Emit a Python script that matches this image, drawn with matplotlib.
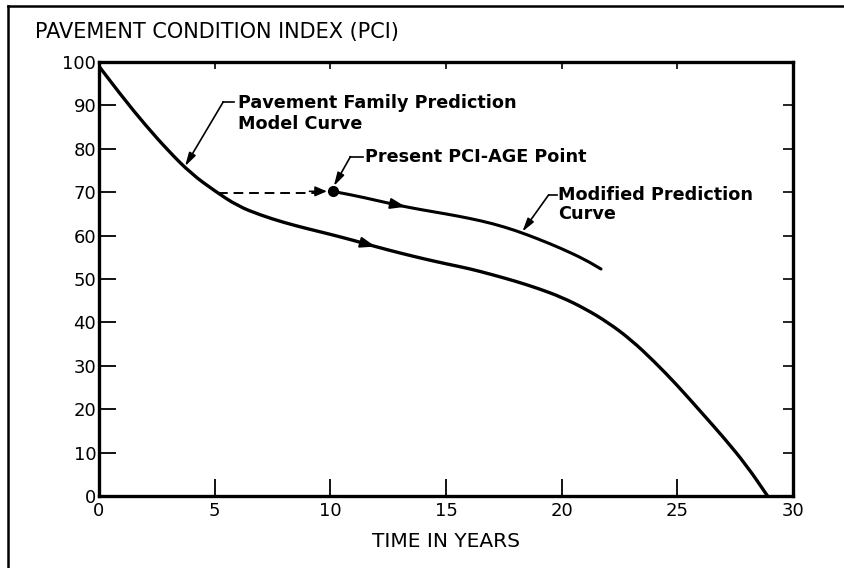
import numpy as np
import matplotlib.pyplot as plt
from matplotlib.lines import Line2D
from matplotlib.path import Path
from matplotlib.patches import PathPatch

# === Data ===
main_x = [0, 1, 2, 3, 4, 5, 6, 7, 8, 9, 10, 11, 12, 13, 14, 15, 16, 17, 18, 19,
          20, 21, 22, 23, 24, 25, 26, 27, 28, 28.9]
main_y = [99, 92, 85.5, 79.5, 74.2, 70.3, 66.8, 64.7, 63, 61.6, 60.3, 58.9, 57.4, 56.0,
          54.7, 53.5, 52.4, 51.0, 49.5, 47.8, 45.8, 43.2, 40.0, 36.0, 31.0, 25.5,
          19.5, 13.5, 7.0, 0]
mod_x = [10.1, 11, 12, 13, 14, 15, 16, 17, 18, 19, 20, 21, 21.7]
mod_y = [70.2, 69.3, 68.1, 66.9, 65.9, 65.0, 64.0, 62.8, 61.2, 59.2, 57.0, 54.5, 52.3]
present_age, present_pci = 10.1, 70.2
dash_start = 5.15

x_ticks = [0, 5, 10, 15, 20, 25, 30]
y_ticks = [0, 10, 20, 30, 40, 50, 60, 70, 80, 90, 100]

title = "PAVEMENT CONDITION INDEX (PCI)"
xlabel = "TIME IN YEARS"
lbl_family = "Pavement Family Prediction\nModel Curve"
lbl_present = "Present PCI-AGE Point"
lbl_modified = "Modified Prediction\nCurve"

# === Figure ===
fig = plt.figure(figsize=(8.44, 5.68), dpi=100)
ax = fig.add_axes([99 / 844, 1 - 496 / 568, 694 / 844, 434 / 568])

# outer frame (top and left visible in reference)
fig.add_artist(Line2D([8 / 844, 1], [1 - 6 / 568, 1 - 6 / 568], color='k', lw=1.8))
fig.add_artist(Line2D([8 / 844, 8 / 844], [0, 1 - 6 / 568], color='k', lw=1.8))


def smooth_curve(xs, ys, lw):
    # quadratic bezier through midpoints, read points act as control points
    pts = list(zip(xs, ys))
    verts = [pts[0]]
    codes = [Path.MOVETO]
    for i in range(1, len(pts) - 1):
        mid = ((pts[i][0] + pts[i + 1][0]) / 2, (pts[i][1] + pts[i + 1][1]) / 2)
        verts += [pts[i], mid]
        codes += [Path.CURVE3, Path.CURVE3]
    verts.append(pts[-1])
    codes.append(Path.LINETO)
    ax.add_patch(PathPatch(Path(verts, codes), fill=False, edgecolor='k', lw=lw,
                           capstyle='round', joinstyle='round'))


smooth_curve(main_x, main_y, 2.4)
smooth_curve(mod_x, mod_y, 2.2)
ax.plot([dash_start, present_age - 0.4], [np.interp(dash_start, main_x, main_y)] * 2,
        color='k', lw=1.4, dashes=(5, 3))
ax.plot(present_age, present_pci, 'o', color='k', ms=7)


def curve_arrow(xs, ys, x0, dx=0.35):
    y1 = np.interp(x0 - dx, xs, ys)
    y2 = np.interp(x0 + dx, xs, ys)
    ax.annotate('', xy=(x0 + dx, y2), xytext=(x0 - dx, y1),
                arrowprops=dict(arrowstyle='-|>,head_length=0.9,head_width=0.32',
                                color='k', lw=1.5, shrinkA=0, shrinkB=0))


curve_arrow(main_x, main_y, 11.6)
curve_arrow(mod_x, mod_y, 12.9)
ax.annotate('', xy=(present_age - 0.25, present_pci), xytext=(present_age - 1.0, present_pci),
            arrowprops=dict(arrowstyle='-|>,head_length=0.7,head_width=0.3',
                            color='k', lw=1.2, shrinkA=0, shrinkB=0))


def leader(hook_x0, hook_x1, hy, tx, ty):
    ax.plot([hook_x0, hook_x1], [hy, hy], color='k', lw=1.2)
    ax.annotate('', xy=(tx, ty), xytext=(hook_x0, hy),
                arrowprops=dict(arrowstyle='-|>,head_length=0.8,head_width=0.22',
                                color='k', lw=1.2, shrinkA=0, shrinkB=0))


leader(5.37, 5.85, 90.8, 3.72, np.interp(3.72, main_x, main_y) + 0.3)
leader(10.87, 11.4, 78.2, present_age + 0.05, present_pci + 1.2)
leader(19.44, 19.8, 69.4, 18.3, np.interp(18.3, mod_x, mod_y) + 0.3)

fs_ann = 12.7
ax.text(6.0, 88.2, lbl_family, fontsize=fs_ann, fontweight='bold', va='center',
        ha='left', linespacing=1.2)
ax.text(11.5, 78.2, lbl_present, fontsize=fs_ann, fontweight='bold', va='center', ha='left')
ax.text(19.85, 67.1, lbl_modified, fontsize=fs_ann, fontweight='bold', va='center',
        ha='left', linespacing=1.1)

# axes styling
ax.set_xlim(0, 30)
ax.set_ylim(0, 100)
ax.set_xticks(x_ticks)
ax.set_yticks(y_ticks)
ax.set_xticklabels([str(t) for t in x_ticks])
ax.set_yticklabels([str(t) for t in y_ticks])
for s in ax.spines.values():
    s.set_linewidth(2.4)
ax.tick_params(axis='both', direction='in', length=12, width=1.3, labelsize=13,
               colors='k')
ax.tick_params(axis='y', pad=2)
ax.tick_params(axis='x', pad=4)

top = ax.secondary_xaxis('top')
top.set_xticks(x_ticks[1:-1])
top.tick_params(direction='in', length=5, width=1.2, labeltop=False)
right = ax.secondary_yaxis('right')
right.set_yticks(y_ticks[1:-1])
right.tick_params(direction='in', length=7, width=1.2, labelright=False)

ax.set_xlabel(xlabel, fontsize=14.5, labelpad=9)
fig.text(35 / 844, 1 - 32 / 568, title, fontsize=15, ha='left', va='center')

fig.savefig('out.png', dpi=100)
